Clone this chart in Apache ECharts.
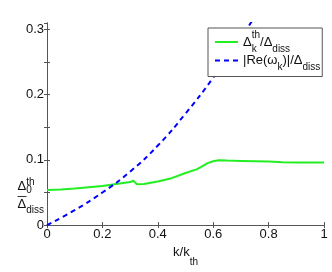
<!DOCTYPE html>
<html><head><meta charset="utf-8">
<script src="https://cdn.jsdelivr.net/npm/echarts@6/dist/echarts.min.js"></script>
<style>html,body{margin:0;padding:0;background:#fff}#c{width:332px;height:272px}</style>
</head><body><div id="c"></div>
<script>
// ---- data ----
const kGreen = [0, 0.05, 0.1, 0.15, 0.2, 0.25, 0.3, 0.312, 0.325, 0.35, 0.4, 0.45, 0.5, 0.54, 0.56, 0.58, 0.6, 0.62, 0.65, 0.7, 0.75, 0.8, 0.85, 0.9, 1.0];
const deltaThRatio = [0.054, 0.0545, 0.056, 0.058, 0.060, 0.063, 0.066, 0.068, 0.0625, 0.063, 0.067, 0.072, 0.080, 0.0855, 0.090, 0.095, 0.098, 0.0995, 0.099, 0.0985, 0.098, 0.0975, 0.0965, 0.0962, 0.096];
const kBlue = [0, 0.1, 0.2, 0.3, 0.4, 0.5, 0.6, 0.7, 0.75];
const reOmegaRatio = [0, 0.023, 0.050, 0.082, 0.122, 0.171, 0.226, 0.287, 0.32];
const xTickValues = [0, 0.2, 0.4, 0.6, 0.8, 1];
const yLabelValues = [0, 0.1, 0.2, 0.3];
const fractionTickValue = 0.05;
const seriesNames = ['th', 're'];

const FONT = '"Liberation Sans", Arial, Helvetica, sans-serif';
const AXIS = '#555';
const TXT = '#111';

const richBase = {
  m: {fontSize: 13, fontFamily: FONT, color: TXT, lineHeight: 24, verticalAlign: 'middle'},
  sp: {fontSize: 10, fontFamily: FONT, color: TXT, lineHeight: 10, verticalAlign: 'top'},
  sb: {fontSize: 10, fontFamily: FONT, color: TXT, lineHeight: 12, verticalAlign: 'bottom'},
  sb0: {fontSize: 10, fontFamily: FONT, color: TXT, lineHeight: 12, verticalAlign: 'bottom', width: 0}
};

const chart = echarts.init(document.getElementById('c'), null, {renderer: 'canvas'});
const near = (a, b) => Math.abs(a - b) < 1e-9;

const option = {
  animation: false,
  backgroundColor: '#fff',
  grid: {left: 47, top: 23, right: 8, bottom: 39},
  legend: {
    orient: 'vertical',
    left: 208, top: 28, z: 10,
    padding: [2, 2, 4, 6],
    itemGap: 0,
    itemWidth: 23, itemHeight: 10,
    itemStyle: {opacity: 0},
    backgroundColor: '#fff',
    borderColor: AXIS, borderWidth: 1,
    data: seriesNames,
    formatter: function (name) {
      if (name === 'th') return '{m|Δ}{sb0|k}{sp|th}{m|/Δ}{sb|diss}';
      return '{m|\u007CRe(ω}{sb|k}{m|)\u007C/Δ}{sb|diss}';
    },
    textStyle: {rich: richBase, fontSize: 13, fontFamily: FONT}
  },
  xAxis: [{
    type: 'value', min: 0, max: 1, interval: 0.2, position: 'bottom',
    axisLine: {show: true, lineStyle: {color: AXIS}},
    axisTick: {show: true, inside: true, length: 3, lineStyle: {color: AXIS}},
    splitLine: {show: false},
    axisLabel: {
      color: TXT, fontSize: 13, fontFamily: FONT, margin: 3,
      formatter: function (v) { return xTickValues.some(t => near(t, v)) ? String(v) : ''; }
    },
    name: '{n|k/k}{s|th}',
    nameLocation: 'middle', nameGap: 16,
    nameTextStyle: {
      rich: {
        n: {fontSize: 13, fontFamily: FONT, color: TXT, lineHeight: 16, verticalAlign: 'top'},
        s: {fontSize: 10, fontFamily: FONT, color: TXT, lineHeight: 10, padding: [11, 0, 0, 0], verticalAlign: 'top'}
      }
    }
  }, {
    type: 'value', min: 0, max: 1, interval: 0.2, position: 'top',
    axisLine: {show: true, lineStyle: {color: AXIS}},
    axisTick: {show: true, inside: true, length: 3, lineStyle: {color: AXIS}},
    splitLine: {show: false}, axisLabel: {show: false}
  }],
  yAxis: [{
    type: 'value', min: 0, max: 0.31, interval: 0.05, position: 'left',
    axisLine: {show: true, lineStyle: {color: AXIS}},
    axisTick: {show: true, inside: true, length: 3, lineStyle: {color: AXIS}},
    splitLine: {show: false},
    axisLabel: {
      color: TXT, fontSize: 13, fontFamily: FONT, margin: 3,
      showMaxLabel: false,
      formatter: function (v) {
        if (near(v, fractionTickValue)) return '{nd|Δ}{s0|0}{sp|th}\n{bar| }\n{dd|Δ}{ds|diss}';
        return yLabelValues.some(t => near(t, v)) ? String(v) : '';
      },
      rich: {
        nd: {fontSize: 13, fontFamily: FONT, color: TXT, lineHeight: 18, verticalAlign: 'middle', align: 'left'},
        s0: {fontSize: 10, fontFamily: FONT, color: TXT, lineHeight: 10, verticalAlign: 'bottom', width: 0, align: 'left'},
        sp: {fontSize: 10, fontFamily: FONT, color: TXT, lineHeight: 4, verticalAlign: 'top', align: 'left'},
        bar: {fontSize: 2, lineHeight: 3, height: 1, width: 9, backgroundColor: '#333', align: 'left', verticalAlign: 'middle'},
        dd: {fontSize: 13, fontFamily: FONT, color: TXT, lineHeight: 9, verticalAlign: 'top', align: 'left'},
        ds: {fontSize: 10, fontFamily: FONT, color: TXT, lineHeight: 10, padding: [7, 0, 0, 0], verticalAlign: 'top', align: 'left'}
      }
    }
  }, {
    type: 'value', min: 0, max: 0.31, interval: 0.05, position: 'right',
    axisLine: {show: true, lineStyle: {color: AXIS}},
    axisTick: {show: true, inside: true, length: 3, lineStyle: {color: AXIS}},
    splitLine: {show: false}, axisLabel: {show: false}
  }],
  series: [{
    name: 'th', type: 'line', xAxisIndex: 0, yAxisIndex: 0,
    symbol: 'none', smooth: false, clip: true,
    lineStyle: {color: '#22ee22', width: 2},
    itemStyle: {color: '#22ee22'},
    data: kGreen.map((k, i) => [k, deltaThRatio[i]])
  }, {
    name: 're', type: 'line', xAxisIndex: 0, yAxisIndex: 0,
    symbol: 'none', smooth: true, clip: true,
    lineStyle: {color: '#0000ff', width: 2, type: [5, 4]},
    itemStyle: {color: '#0000ff'},
    data: kBlue.map((k, i) => [k, reOmegaRatio[i]])
  }]
};
chart.setOption(option);
</script>
</body></html>
